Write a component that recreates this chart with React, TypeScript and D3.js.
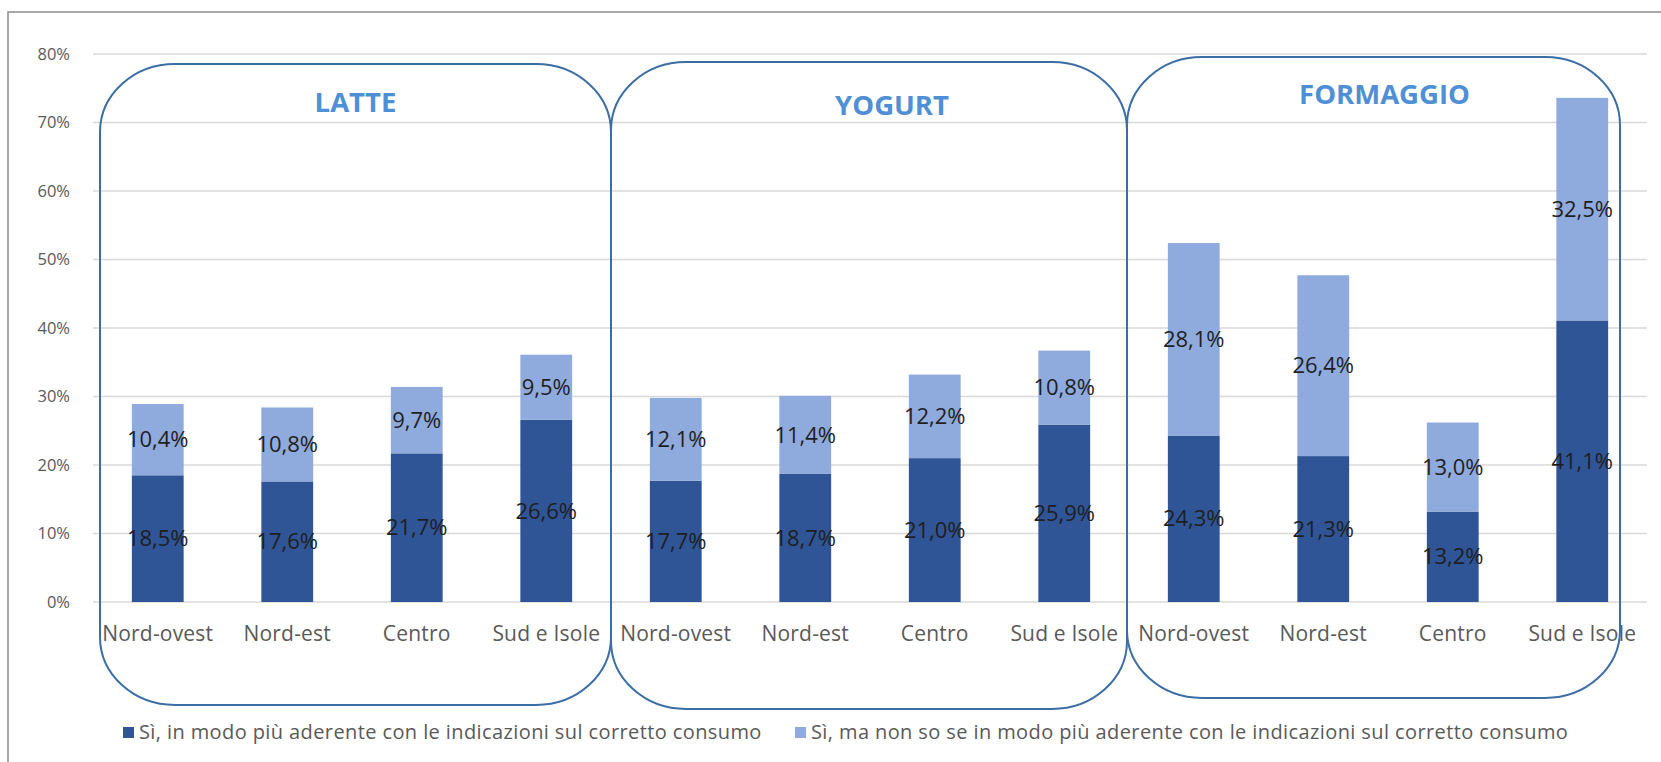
import React from "react";
import * as d3 from "d3";

const regions = ["Nord-ovest", "Nord-est", "Centro", "Sud e Isole"];
const products = ["LATTE", "YOGURT", "FORMAGGIO"];
const latteAderente = [18.5, 17.6, 21.7, 26.6];
const latteNonSo = [10.4, 10.8, 9.7, 9.5];
const yogurtAderente = [17.7, 18.7, 21.0, 25.9];
const yogurtNonSo = [12.1, 11.4, 12.2, 10.8];
const formaggioAderente = [24.3, 21.3, 13.2, 41.1];
const formaggioNonSo = [28.1, 26.4, 13.0, 32.5];
const yTicks = [0, 10, 20, 30, 40, 50, 60, 70, 80];
const legendLabels = [
  "Sì, in modo più aderente con le indicazioni sul corretto consumo",
  "Sì, ma non so se in modo più aderente con le indicazioni sul corretto consumo",
];

const W = 1661;
const H = 762;
const DARK = "#2f5597";
const LIGHT = "#8faadc";
const FONT = "'Open Sans', Lato, sans-serif";

// annotation frame styling (pixel offsets relative to group extents)
const frameLeftAdj = [7, 0, -2];
const frameRightAdj = [0, -2, -27];
const frameTop = [64, 62, 57];
const frameBottom = [705, 709, 698];
const titleDx = [0, 23, 11];
const titleBaseline = [112, 115, 104];

const seriesBy: Record<string, [number[], number[]]> = {
  LATTE: [latteAderente, latteNonSo],
  YOGURT: [yogurtAderente, yogurtNonSo],
  FORMAGGIO: [formaggioAderente, formaggioNonSo],
};

type Row = { key: string; product: string; region: string; a: number; b: number };
const rows: Row[] = [];
products.forEach((p) => {
  const [a, b] = seriesBy[p];
  regions.forEach((r, i) => rows.push({ key: `${p}|${r}`, product: p, region: r, a: a[i], b: b[i] }));
});

const fmt = (v: number) => d3.format(".1f")(v).replace(".", ",") + "%";

export default function App() {
  const x = d3
    .scaleBand<string>()
    .domain(rows.map((r) => r.key))
    .range([93, 1647])
    .paddingInner(0.6)
    .paddingOuter(0.3);
  const y = d3.scaleLinear().domain([0, 80]).range([602, 54]);
  const bw = x.bandwidth();
  const step = x.step();
  const half = (step - bw) / 2;

  const stack = d3.stack<Row>().keys(["a", "b"])(rows as any);

  return (
    <svg
      width={W}
      height={H}
      style={{ position: "absolute", left: 0, top: 0, display: "block", background: "#fff" }}
      fontFamily={FONT}
    >
      <rect x={8} y={12} width={W + 20} height={H + 20} fill="#fff" stroke="#8c8c8c" strokeWidth={1.5} />
      {/* gridlines */}
      {yTicks.map((t) => (
        <g key={t}>
          <line x1={93} x2={1647} y1={y(t)} y2={y(t)} stroke="#d9d9d9" strokeWidth={1.5} />
          <text x={70} y={y(t)} dy="0.35em" textAnchor="end" fontSize={16.5} fill="#595959">
            {t}%
          </text>
        </g>
      ))}
      {/* bars */}
      {stack.map((s, si) =>
        s.map((d, i) => (
          <rect
            key={`${si}-${i}`}
            x={x(rows[i].key)}
            y={y(d[1])}
            width={bw}
            height={y(d[0]) - y(d[1])}
            fill={si === 0 ? DARK : LIGHT}
          />
        ))
      )}
      {/* data labels */}
      {stack.map((s, si) =>
        s.map((d, i) => (
          <text
            key={`l${si}-${i}`}
            x={(x(rows[i].key) as number) + bw / 2}
            y={y((d[0] + d[1]) / 2)}
            dy="0.35em"
            textAnchor="middle"
            fontSize={22}
            fill="#1f1f1f"
          >
            {fmt(d[1] - d[0])}
          </text>
        ))
      )}
      {/* x labels */}
      {rows.map((r) => (
        <text
          key={`x${r.key}`}
          x={(x(r.key) as number) + bw / 2}
          y={641}
          textAnchor="middle"
          fontSize={21}
          letterSpacing={0.2}
          fill="#595959"
        >
          {r.region}
        </text>
      ))}
      {/* group frames */}
      {products.map((p, gi) => {
        const first = x(`${p}|${regions[0]}`) as number;
        const last = x(`${p}|${regions[regions.length - 1]}`) as number;
        const left = first - half + frameLeftAdj[gi];
        const right = last + bw + half + frameRightAdj[gi];
        return (
          <g key={p}>
            <rect
              x={left}
              y={frameTop[gi]}
              width={right - left}
              height={frameBottom[gi] - frameTop[gi]}
              rx={75}
              ry={68}
              fill="none"
              stroke="#3b6ea5"
              strokeWidth={2}
            />
            <text
              x={(left + right) / 2 + titleDx[gi]}
              y={titleBaseline[gi]}
              textAnchor="middle"
              fontSize={27.5}
              fontWeight="bold"
              fill="#4f8fd6"
            >
              {p}
            </text>
          </g>
        );
      })}
      {/* legend */}
      {legendLabels.map((l, i) => {
        const lx = i === 0 ? 123 : 795;
        return (
          <g key={l}>
            <rect x={lx} y={727} width={11} height={11} fill={i === 0 ? DARK : LIGHT} />
            <text x={lx + 16} y={739} fontSize={20} letterSpacing={0.4} fill="#595959">
              {l}
            </text>
          </g>
        );
      })}
    </svg>
  );
}
